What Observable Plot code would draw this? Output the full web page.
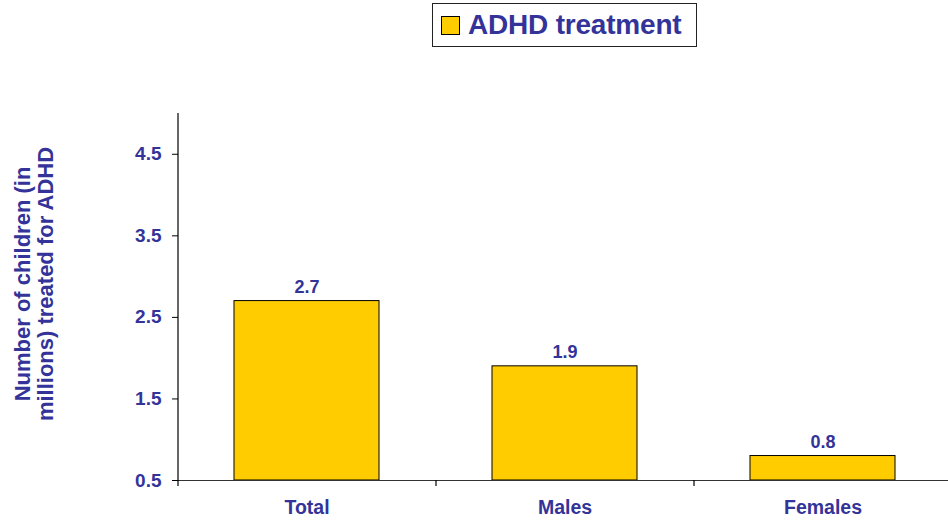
<!DOCTYPE html>
<html>
<head>
<meta charset="utf-8">
<script src="https://cdn.jsdelivr.net/npm/d3@7"></script>
<script src="https://cdn.jsdelivr.net/npm/@observablehq/plot@0.6"></script>
<style>
  html, body { margin: 0; padding: 0; background: #fff; }
  #wrap { position: relative; width: 948px; height: 521px; font-family: "Liberation Sans", Arial, sans-serif; }
  #legend { position: absolute; left: 432px; top: 3px; width: 263px; height: 42px; border: 1px solid #222; background: #fff;
            display: flex; align-items: center; box-sizing: content-box; z-index: 2; }
  #legend .sw { width: 17px; height: 17px; background: #FFCC00; border: 1px solid #000; margin-left: 8px; margin-right: 8px; }
  #legend .lb { font-size: 28px; font-weight: bold; color: #333399; white-space: nowrap; letter-spacing: -0.2px; }
</style>
</head>
<body>
<div id="wrap">
  <div id="legend"><div class="sw"></div><div class="lb">ADHD treatment</div></div>
  <div id="chart"></div>
</div>
<script>
const categories = ["Total", "Males", "Females"];
const values = [2.7, 1.9, 0.8];
const yTicks = [0.5, 1.5, 2.5, 3.5, 4.5];
const yDomain = [0.5, 5];
const seriesName = "ADHD treatment";
const yTitle = "Number of children (in\nmillions) treated for ADHD";

const data = categories.map((c, i) => ({category: c, value: values[i]}));
const blue = "#333399";
const gold = "#FFCC00";

const chart = Plot.plot({
  width: 948,
  height: 521,
  marginLeft: 178,
  marginRight: -4,
  marginTop: 113,
  marginBottom: 41,
  style: {fontFamily: "Liberation Sans, Arial, sans-serif", background: "#fff", overflow: "visible"},
  x: {domain: categories, paddingInner: 0.437, paddingOuter: 0.2185, label: null},
  y: {domain: yDomain, label: null},
  marks: [
    Plot.barY(data, {x: "category", y1: yDomain[0], y2: "value", fill: gold, stroke: "#000", strokeWidth: 1}),
    Plot.ruleY([yDomain[0]], {stroke: "#333", strokeWidth: 1.2}),
    Plot.text(data, {x: "category", y: "value", text: d => d3.format(".1f")(d.value), dy: -8, lineAnchor: "bottom",
      fill: blue, fontSize: 18, fontWeight: "bold"}),
    Plot.axisY({ticks: yTicks, tickFormat: d3.format(".1f"), tickSize: 6, tickPadding: 11, fontSize: 19, fontWeight: "bold",
      fill: blue, stroke: "#000", label: null}),
    Plot.axisX({tickSize: 0, tickPadding: 20, fontSize: 19.5, fontWeight: "bold", fill: blue, label: null}),
    Plot.text([yTitle], {frameAnchor: "left", rotate: -90, dx: -144, dy: -13, textAnchor: "middle", lineAnchor: "middle",
      lineHeight: 1.05, fontSize: 22, fontWeight: "bold", fill: blue})
  ]
});

document.getElementById("chart").appendChild(chart);

// Axis line and category boundary ticks, positioned via the chart's own scales
const xs = chart.scale("x");
const ys = chart.scale("y");
const svg = d3.select(chart);
const step = xs.step;
const left = xs.range[0];
const yTop = ys.apply(yDomain[1]);
const yBase = ys.apply(yDomain[0]);
const g = svg.append("g").attr("stroke", "#000").attr("stroke-width", 1.2);
g.append("line").attr("x1", left).attr("x2", left).attr("y1", yTop).attr("y2", yBase + 6);
for (let i = 1; i <= categories.length; i++) {
  const bx = left + i * step;
  g.append("line").attr("x1", bx).attr("x2", bx).attr("y1", yBase).attr("y2", yBase + 6);
}
</script>
</body>
</html>
